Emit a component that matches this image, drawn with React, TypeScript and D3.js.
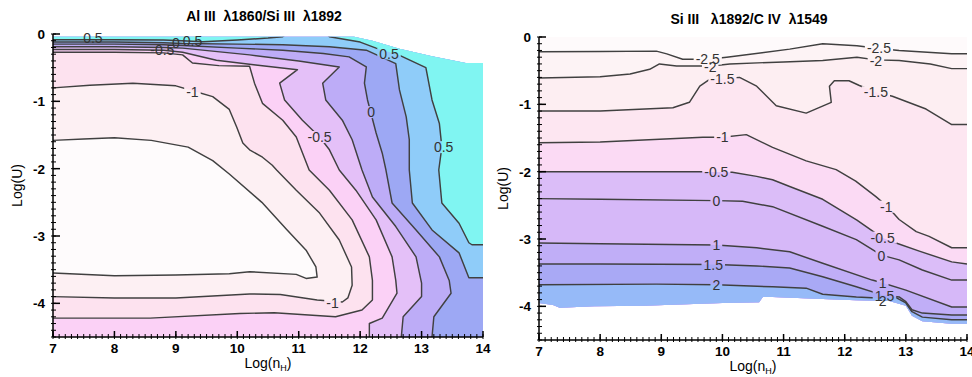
import React from "react";
import * as d3 from "d3";

type Pt = [number, number];

// x = Log(nH), y = Log(U)
const xTicks = [7, 8, 9, 10, 11, 12, 13, 14];
const yTicks = [0, -1, -2, -3, -4];

// ---------------- left panel: Al III 1860 / Si III 1892 ----------------
const alLevels = [-1.25, -1, -0.75, -0.5, -0.25, 0, 0.25, 0.5, 0.5];

const al125: Pt[] = [[7,-1.58],[7.5,-1.56],[8,-1.54],[8.6,-1.58],[9.2,-1.68],[9.6,-1.88],[9.87,-2.08],[10.4,-2.5],[10.8,-2.9],[11.12,-3.21],[11.28,-3.46],[11.3,-3.61],[11.12,-3.63],[10.96,-3.57],[10.2,-3.53],[9.87,-3.56],[9,-3.58],[8,-3.59],[7,-3.55]];
const al100: Pt[] = [[7,-0.8],[7.6,-0.76],[8.3,-0.73],[9,-0.77],[9.3,-0.85],[9.6,-0.93],[9.87,-1.12],[9.99,-1.38],[10.09,-1.62],[10.2,-1.72],[10.41,-1.83],[10.57,-1.95],[10.64,-2.02],[10.96,-2.32],[11.34,-2.66],[11.66,-3.06],[11.86,-3.46],[11.87,-3.73],[11.8,-3.92],[11.71,-3.98],[11.3,-3.95],[10.7,-3.87],[10.2,-3.86],[9,-3.92],[8,-3.92],[7,-3.9]];
const al075: Pt[] = [[7,-0.27],[8,-0.27],[8.8,-0.28],[9.11,-0.31],[9.27,-0.43],[9.7,-0.47],[10.2,-0.48],[10.28,-0.73],[10.41,-1.03],[10.74,-1.28],[10.96,-1.53],[11.17,-2.02],[11.5,-2.32],[11.87,-2.76],[12.15,-3.31],[12.2,-3.66],[12.2,-3.95],[12.03,-4.1],[11.6,-4.2],[10.6,-4.14],[10.04,-4.15],[8.58,-4.22],[7,-4.22]];
const al050: Pt[] = [[7,-0.23],[8,-0.23],[8.8,-0.24],[9.11,-0.27],[9.66,-0.39],[10.3,-0.46],[10.98,-0.53],[10.69,-0.73],[10.77,-0.98],[11.06,-1.28],[11.34,-1.53],[11.5,-1.72],[11.66,-2.02],[11.93,-2.32],[12.26,-2.76],[12.52,-3.31],[12.58,-3.66],[12.6,-3.85],[12.36,-4.22],[12.15,-4.3],[12.15,-4.5]];
const al025: Pt[] = [[7,-0.19],[8,-0.19],[8.8,-0.2],[9.11,-0.21],[10.2,-0.31],[11,-0.4],[11.66,-0.49],[11.39,-0.73],[11.44,-0.98],[11.71,-1.28],[11.87,-1.57],[12.03,-2.02],[12.2,-2.42],[12.58,-2.86],[12.91,-3.31],[13,-3.7],[13,-3.9],[12.7,-4.2],[12.67,-4.5]];
const al000: Pt[] = [[7,-0.15],[8,-0.15],[8.8,-0.16],[9.11,-0.17],[10,-0.21],[10.74,-0.24],[11.4,-0.29],[11.82,-0.34],[12.1,-0.49],[12.07,-0.73],[12.12,-0.98],[12.26,-1.47],[12.36,-1.77],[12.42,-2.02],[12.52,-2.51],[12.91,-2.91],[13.29,-3.31],[13.45,-3.66],[13.48,-3.85],[13.2,-4.2],[13.17,-4.5]];
const alP025: Pt[] = [[7,-0.12],[8,-0.12],[8.8,-0.13],[9.11,-0.14],[10,-0.15],[10.74,-0.16],[11.5,-0.19],[12.1,-0.24],[12.58,-0.44],[12.64,-0.83],[12.75,-1.23],[12.8,-1.57],[12.8,-2.02],[12.85,-2.51],[13.17,-2.91],[13.61,-3.25],[13.77,-3.62],[14,-3.62]];
const alP050a: Pt[] = [[7,-0.085],[8,-0.085],[8.8,-0.09],[9.1,-0.1],[9.44,-0.115],[10,-0.09],[10.5,-0.06],[10.74,-0.04],[10.8,0]];
const alP050b: Pt[] = [[11.45,0],[11.5,-0.04],[12,-0.12],[12.26,-0.21],[12.6,-0.3],[13.07,-0.5],[13.17,-0.98],[13.29,-1.33],[13.33,-1.68],[13.28,-2.02],[13.33,-2.51],[13.61,-2.81],[13.77,-3.1],[13.82,-3.13],[14,-3.13]];

// corners used to close each contour into a filled region
const alClose: Pt[][] = [
  [],
  [[7,-4.5],[14,-4.5],[14,0],[7,0]],
  [[7,-4.5],[14,-4.5],[14,0],[7,0]],
  [[14,-4.5],[14,0],[7,0]],
  [[14,-4.5],[14,0],[7,0]],
  [[14,-4.5],[14,0],[7,0]],
  [[14,0],[7,0]],
  [[7,0]],
  [[14,0]],
];
const alLines = [al125, al100, al075, al050, al025, al000, alP025, alP050a, alP050b];
// top edge of the computed grid (blank above)
const alTopEdge: Pt[] = [[7,-0.04],[11.9,-0.04],[12.2,-0.1],[12.64,-0.22],[13.17,-0.33],[13.72,-0.43],[14,-0.43]];

const alLabels: { t: string; x: number; y: number; gap: boolean }[] = [
  { t: "0.5", x: 7.65, y: -0.065, gap: false },
  { t: "-0.5", x: 8.78, y: -0.235, gap: false },
  { t: "0", x: 9.0, y: -0.14, gap: false },
  { t: "0.5", x: 9.27, y: -0.1, gap: false },
  { t: "-1", x: 9.27, y: -0.86, gap: true },
  { t: "0.5", x: 12.47, y: -0.29, gap: true },
  { t: "-0.5", x: 11.34, y: -1.53, gap: true },
  { t: "0", x: 12.18, y: -1.16, gap: true },
  { t: "0.5", x: 13.36, y: -1.68, gap: true },
  { t: "-1", x: 11.55, y: -4.0, gap: true },
];

const alBase = "#fdf0f3";
const alFills = ["#fefbfc", "#fde2ef", "#fbd1f6", "#e4c0f8", "#bdacf7", "#9da8f4", "#8fccf9", "#80f5f2", "#80f5f2"];

// ---------------- right panel: Si III 1892 / C IV 1549 ----------------
const siLevels = [-2.5, -2, -1.5, -1, -0.5, 0, 1, 1.5, 2];

const siM25: Pt[] = [[7,-0.22],[8,-0.215],[8.92,-0.21],[9.09,-0.25],[9.35,-0.33],[9.76,-0.33],[10.07,-0.3],[11.1,-0.18],[11.64,-0.1],[12.2,-0.13],[12.56,-0.17],[12.89,-0.2],[13.75,-0.25],[14,-0.25]];
const siM20: Pt[] = [[7,-0.61],[8,-0.59],[8.49,-0.55],[8.81,-0.48],[8.97,-0.4],[9.25,-0.43],[9.82,-0.43],[10.12,-0.4],[11,-0.37],[11.64,-0.35],[12.2,-0.3],[12.51,-0.34],[12.89,-0.35],[13.4,-0.4],[13.75,-0.47],[14,-0.47]];
const siM15: Pt[] = [[7,-1.1],[8,-1.1],[9.19,-1.05],[9.46,-0.97],[9.63,-0.73],[9.79,-0.63],[10,-0.62],[10.28,-0.6],[10.56,-0.73],[10.88,-1.02],[11.37,-1.13],[11.78,-0.97],[11.75,-0.73],[11.83,-0.65],[12.07,-0.65],[12.24,-0.72],[12.51,-0.82],[12.78,-0.88],[13.33,-1.07],[13.75,-1.3],[14,-1.3]];
const siM10: Pt[] = [[7,-1.57],[8,-1.56],[9.68,-1.49],[10,-1.49],[10.39,-1.45],[10.82,-1.64],[11.37,-1.84],[11.86,-1.97],[12.18,-2.14],[12.51,-2.37],[12.69,-2.51],[12.89,-2.71],[13.17,-2.89],[13.38,-2.96],[13.75,-3.13],[14,-3.13]];
const siM05: Pt[] = [[7,-2],[8,-2],[9.68,-2],[10.16,-2.01],[10.56,-2.07],[10.82,-2.12],[11.1,-2.22],[11.64,-2.41],[12.2,-2.72],[12.61,-2.98],[12.84,-3.06],[13.22,-3.18],[13.75,-3.34],[14,-3.37]];
const si00: Pt[] = [[7,-2.4],[8,-2.41],[9.9,-2.43],[10.33,-2.44],[10.82,-2.52],[11.64,-2.81],[12.19,-3.01],[12.6,-3.24],[12.89,-3.31],[13.27,-3.46],[13.75,-3.61],[14,-3.61]];
const si10: Pt[] = [[7,-3.06],[8,-3.07],[9.9,-3.09],[10.56,-3.13],[11.1,-3.19],[11.64,-3.36],[12.45,-3.61],[12.61,-3.65],[13,-3.76],[13.75,-4.01],[14,-4.01]];
const si15: Pt[] = [[7,-3.37],[8,-3.37],[9.9,-3.38],[10.56,-3.4],[11.1,-3.43],[11.64,-3.56],[12.19,-3.71],[12.61,-3.83],[12.89,-3.86],[13,-3.93],[13.1,-4.05],[13.27,-4.1],[13.75,-4.13],[14,-4.13]];
const si20: Pt[] = [[7,-3.68],[8.92,-3.67],[9.9,-3.68],[10.82,-3.71],[11.37,-3.73],[11.64,-3.82],[12.19,-3.86],[12.62,-3.88],[12.84,-3.87],[13,-3.95],[13.1,-4.08],[13.27,-4.16],[13.75,-4.2],[14,-4.2]];
const siLines = [siM25, siM20, siM15, siM10, siM05, si00, si10, si15, si20];
const siClose: Pt[][] = siLines.map(() => [[14,-4.5],[7,-4.5]] as Pt[]);
// lower edge of the computed grid (blank below)
const siBottomEdge: Pt[] = [[7,-3.95],[7.23,-3.98],[7.34,-4.02],[7.9,-4],[8.7,-3.99],[10,-3.95],[10.6,-3.94],[10.66,-3.86],[10.82,-3.86],[11.64,-3.89],[12.19,-3.91],[12.73,-3.92],[13,-3.99],[13.1,-4.14],[13.27,-4.22],[13.75,-4.26],[14,-4.26]];

const siLabels: { t: string; x: number; y: number; gap: boolean }[] = [
  { t: "-2.5", x: 9.76, y: -0.32, gap: true },
  { t: "-2", x: 9.8, y: -0.44, gap: true },
  { t: "-2.5", x: 12.56, y: -0.17, gap: true },
  { t: "-2", x: 12.51, y: -0.35, gap: true },
  { t: "-1.5", x: 10.0, y: -0.62, gap: true },
  { t: "-1.5", x: 12.51, y: -0.82, gap: true },
  { t: "-1", x: 10.0, y: -1.49, gap: true },
  { t: "-1", x: 12.68, y: -2.52, gap: true },
  { t: "-0.5", x: 9.9, y: -2.0, gap: true },
  { t: "-0.5", x: 12.62, y: -2.98, gap: true },
  { t: "0", x: 9.9, y: -2.43, gap: true },
  { t: "0", x: 12.6, y: -3.25, gap: true },
  { t: "1", x: 9.9, y: -3.09, gap: true },
  { t: "1", x: 12.62, y: -3.65, gap: true },
  { t: "1.5", x: 9.85, y: -3.38, gap: true },
  { t: "1.5", x: 12.65, y: -3.84, gap: true },
  { t: "2", x: 9.9, y: -3.68, gap: true },
  { t: "2", x: 12.62, y: -3.92, gap: false },
];

const siBase = "#fefafb";
const siFills = ["#fdf3f5", "#fdeef2", "#fde6f1", "#fbdaf4", "#dbbdf8", "#d6b8f8", "#c0aef7", "#a9a9f5", "#96baf8"];

const font = "'Liberation Sans', Arial, Helvetica, sans-serif";
const labelSize = 14;

const charW = (s: string) =>
  s.split("").reduce((a, c) => a + (c === "-" ? 4.7 : c === "." ? 3.9 : 7.8), 0);

interface PanelProps {
  id: string;
  x0: number;
  y0: number;
  w: number;
  h: number;
  title: string;
  lines: Pt[][];
  close: Pt[][];
  fills: string[];
  base: string;
  region: Pt[];
  labels: { t: string; x: number; y: number; gap: boolean }[];
}

const Panel = ({ id, x0, y0, w, h, title, lines, close, fills, base, region, labels }: PanelProps) => {
  const x = d3.scaleLinear().domain([7, 14]).range([x0, x0 + w]);
  const y = d3.scaleLinear().domain([-4.5, 0]).range([y0 + h, y0]);
  const line = d3.line<Pt>().x((d) => x(d[0])).y((d) => y(d[1]));
  const poly = (p: Pt[]) => line(p) + "Z";

  const minorX = d3.range(70, 141).map((v) => v / 10);
  const minorY = d3.range(0, 46).map((v) => -v / 10);

  return (
    <g>
      <defs>
        <clipPath id={`${id}-clip`}>
          <path d={poly(region)} />
        </clipPath>
        <mask id={`${id}-mask`} maskUnits="userSpaceOnUse" x={0} y={0} width={972} height={377}>
          <rect x={0} y={0} width={972} height={377} fill="white" />
          {labels
            .filter((l) => l.gap)
            .map((l, i) => {
              const tw = charW(l.t) + 4;
              return (
                <rect key={i} x={x(l.x) - tw / 2} y={y(l.y) - 6} width={tw} height={12} fill="black" />
              );
            })}
        </mask>
      </defs>

      <g clipPath={`url(#${id}-clip)`}>
        <path d={poly(region)} fill={base} />
        {lines.map((pts, i) => (
          <path key={i} d={poly([...pts, ...close[i]])} fill={fills[i]} />
        ))}
        <g mask={`url(#${id}-mask)`}>
          {lines.map((pts, i) => (
            <path
              key={i}
              d={line(pts) ?? ""}
              fill="none"
              stroke="#404040"
              strokeWidth={1.45}
              strokeLinejoin="round"
            />
          ))}
        </g>
      </g>

      {labels.map((l, i) => (
        <text
          key={i}
          x={x(l.x)}
          y={y(l.y)}
          dy="0.36em"
          textAnchor="middle"
          fontFamily={font}
          fontSize={labelSize}
          fill="#333"
        >
          {l.t}
        </text>
      ))}

      {/* axes */}
      <line x1={x0} x2={x0} y1={y0} y2={y0 + h} stroke="#000" strokeWidth={1.5} />
      <line x1={x0} x2={x0 + w} y1={y0 + h} y2={y0 + h} stroke="#000" strokeWidth={1.5} />
      {minorY.map((v, i) => (
        <line key={"my" + i} x1={x0 - 2} x2={x0 + 3} y1={y(v)} y2={y(v)} stroke="#000" strokeWidth={1} />
      ))}
      {minorX.map((v, i) => (
        <line key={"mx" + i} x1={x(v)} x2={x(v)} y1={y0 + h + 2} y2={y0 + h - 3} stroke="#000" strokeWidth={1} />
      ))}
      {yTicks.map((v) => (
        <g key={"ty" + v}>
          <line x1={x0} x2={x0 + 7} y1={y(v)} y2={y(v)} stroke="#000" strokeWidth={1.5} />
          <text
            x={x0 - 8}
            y={y(v)}
            dy="0.36em"
            textAnchor="end"
            fontFamily={font}
            fontWeight="bold"
            fontSize={13.5}
          >
            {v === 0 ? "0" : "-" + Math.abs(v)}
          </text>
        </g>
      ))}
      {xTicks.map((v) => (
        <g key={"tx" + v}>
          <line x1={x(v)} x2={x(v)} y1={y0 + h} y2={y0 + h - 6} stroke="#000" strokeWidth={1.5} />
          <text x={x(v)} y={y0 + h + 16} textAnchor="middle" fontFamily={font} fontWeight="bold" fontSize={13.5}>
            {v}
          </text>
        </g>
      ))}

      <text
        x={x0 + w / 2 - 4}
        y={y0 - 13}
        textAnchor="middle"
        fontFamily={font}
        fontWeight="bold"
        fontSize={14}
        xmlSpace="preserve"
        style={{ whiteSpace: "pre" }}
      >
        {title}
      </text>
      <text
        transform={`translate(${x0 - 31},${y0 + h / 2}) rotate(-90)`}
        textAnchor="middle"
        fontFamily={font}
        fontSize={14}
      >
        Log(U)
      </text>
      <text x={x0 + w / 2} y={y0 + h + 31} textAnchor="middle" fontFamily={font} fontSize={14}>
        Log(n
        <tspan fontSize={9} dy={3}>H</tspan>
        <tspan dy={-3}>)</tspan>
      </text>
    </g>
  );
};

export default function App() {
  const alRegion: Pt[] = [...alTopEdge, [14, -4.5], [7, -4.5]];
  const siRegion: Pt[] = [[7, 0], [14, 0], ...siBottomEdge.slice().reverse()];
  return (
    <svg
      width={972}
      height={377}
      viewBox="0 0 972 377"
      style={{ position: "absolute", left: 0, top: 0, background: "#fff" }}
    >
      <rect width={972} height={377} fill="#fff" />
      <Panel
        id="al"
        x0={53}
        y0={34}
        w={430}
        h={303}
        title={"Al III  \u03bb1860/Si III  \u03bb1892"}
        lines={alLines}
        close={alClose}
        fills={alFills}
        base={alBase}
        region={alRegion}
        labels={alLabels}
      />
      <Panel
        id="si"
        x0={539}
        y0={37}
        w={428}
        h={303}
        title={"Si III   \u03bb1892/C IV  \u03bb1549"}
        lines={siLines}
        close={siClose}
        fills={siFills}
        base={siBase}
        region={siRegion}
        labels={siLabels}
      />
    </svg>
  );
}
